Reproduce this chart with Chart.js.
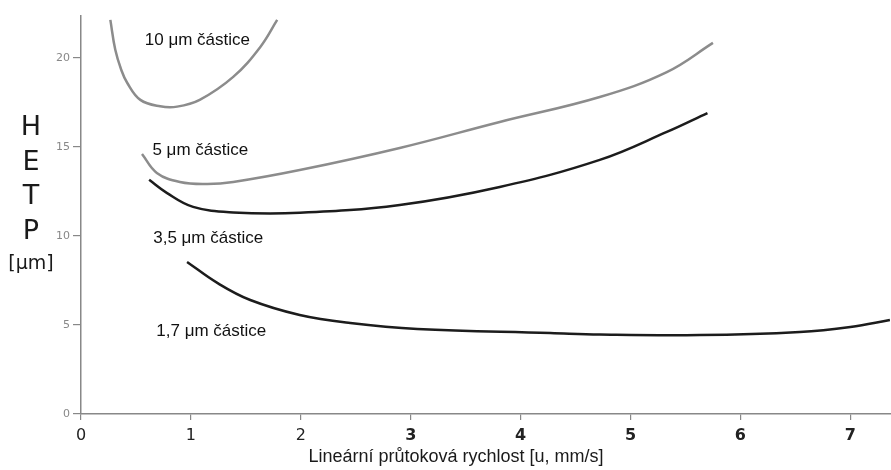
<!DOCTYPE html>
<html><head><meta charset="utf-8">
<script src="https://cdn.jsdelivr.net/npm/chart.js@4/dist/chart.umd.min.js"></script>
<style>html,body{margin:0;padding:0;background:#fff}#wrap{width:891px;height:470px;position:relative}</style>
</head><body><div id="wrap"><canvas id="c"></canvas></div>
<script>
// ---- data ----
const xTicks = [0, 1, 2, 3, 4, 5, 6, 7];
const yTicks = [0, 5, 10, 15, 20];
const seriesNames = ['10 μm částice', '5 μm částice', '3,5 μm částice', '1,7 μm částice'];

const u10    = [0.267, 0.312, 0.366, 0.42, 0.54, 0.72, 0.875, 1.08, 1.385, 1.63, 1.785];
const hetp10 = [22.13, 20.45, 19.33, 18.6, 17.64, 17.28, 17.26, 17.64, 18.93, 20.6, 22.13];

const u5     = [0.555, 0.69, 0.90, 1.15, 1.385, 1.99, 2.9, 3.81, 4.72, 5.33, 5.75];
const hetp5  = [14.6, 13.54, 13.03, 12.92, 13.03, 13.7, 14.94, 16.4, 17.8, 19.2, 20.84];

const u35    = [0.62, 0.78, 1.02, 1.385, 1.99, 2.9, 3.81, 4.72, 5.33, 5.70];
const hetp35 = [13.15, 12.42, 11.63, 11.32, 11.3, 11.74, 12.75, 14.27, 15.84, 16.9];

const u17    = [0.965, 1.24, 1.54, 1.99, 2.45, 3.06, 4.27, 4.72, 5.63, 6.54, 7.0, 7.36];
const hetp17 = [8.54, 7.36, 6.4, 5.56, 5.11, 4.78, 4.55, 4.46, 4.43, 4.61, 4.89, 5.28];

const xTitle = 'Lineární průtoková rychlost [u, mm/s]';
const yTitleLetters = ['H', 'E', 'T', 'P'];
const yUnit = '[μm]';

// ---- presentation ----
const labelAnchors = [[0.58, 21.0], [0.65, 14.83], [0.657, 9.89], [0.685, 4.66]];
const GRAY = '#8c8c8c', DARK = '#1c1c1c';
const pts = (xs, ys) => xs.map((x, i) => ({x, y: ys[i]}));
const mk = (label, xs, ys, color) => ({
  label, data: pts(xs, ys), borderColor: color, borderWidth: 2.5,
  pointRadius: 0, showLine: true, fill: false, tension: 0.4
});

const textPlugin = {
  id: 'texts',
  afterDraw(chart) {
    const ctx = chart.ctx, xs = chart.scales.x, ys = chart.scales.y;
    ctx.save();
    ctx.fillStyle = '#111';
    ctx.textBaseline = 'middle';
    ctx.textAlign = 'left';
    ctx.font = '17px "Liberation Sans", Arial, sans-serif';
    seriesNames.forEach((n, i) => {
      ctx.fillText(n, xs.getPixelForValue(labelAnchors[i][0]), ys.getPixelForValue(labelAnchors[i][1]));
    });
    ctx.textAlign = 'center';
    ctx.fillStyle = '#1a1a1a';
    ctx.font = '18px "Liberation Sans", Arial, sans-serif';
    ctx.fillText(xTitle, 456, 457);
    ctx.font = '27px "DejaVu Sans", sans-serif';
    yTitleLetters.forEach((l, i) => ctx.fillText(l, 31, 128 + i * 34.5));
    ctx.font = '19px "DejaVu Sans", sans-serif';
    ctx.fillText(yUnit, 31, 264);
    ctx.restore();
  }
};

new Chart(document.getElementById('c'), {
  type: 'scatter',
  data: {
    datasets: [
      mk(seriesNames[0], u10, hetp10, GRAY),
      mk(seriesNames[1], u5, hetp5, GRAY),
      mk(seriesNames[2], u35, hetp35, DARK),
      mk(seriesNames[3], u17, hetp17, DARK)
    ]
  },
  options: {
    responsive: true, maintainAspectRatio: false, animation: false,
    layout: {padding: {top: 16, right: 0, left: 0, bottom: 0}},
    plugins: {legend: {display: false}, tooltip: {enabled: false}},
    scales: {
      x: {
        type: 'linear', min: 0, max: 7.37,
        afterBuildTicks: s => { s.ticks = xTicks.map(v => ({value: v})); },
        grid: {drawOnChartArea: false, drawTicks: true, tickLength: 6, color: '#888', lineWidth: 1.2},
        border: {color: '#888', width: 1.5},
        ticks: {
          color: '#222', padding: 6, maxRotation: 0, autoSkip: false,
          font: c => ({family: '"DejaVu Sans", sans-serif', size: 16,
                       weight: (c.tick && c.tick.value >= 3) ? 'bold' : 'normal'})
        },
        afterFit: s => { s.height = 56; }
      },
      y: {
        type: 'linear', min: 0, max: 22.35,
        afterBuildTicks: s => { s.ticks = yTicks.map(v => ({value: v})); },
        grid: {drawOnChartArea: false, drawTicks: true, tickLength: 8, color: '#888', lineWidth: 1.2},
        border: {color: '#888', width: 1.5},
        ticks: {color: '#888', padding: 3, font: {family: '"DejaVu Sans", sans-serif', size: 11}},
        afterFit: s => { s.width = 81; }
      }
    }
  },
  plugins: [textPlugin]
});
</script></body></html>
